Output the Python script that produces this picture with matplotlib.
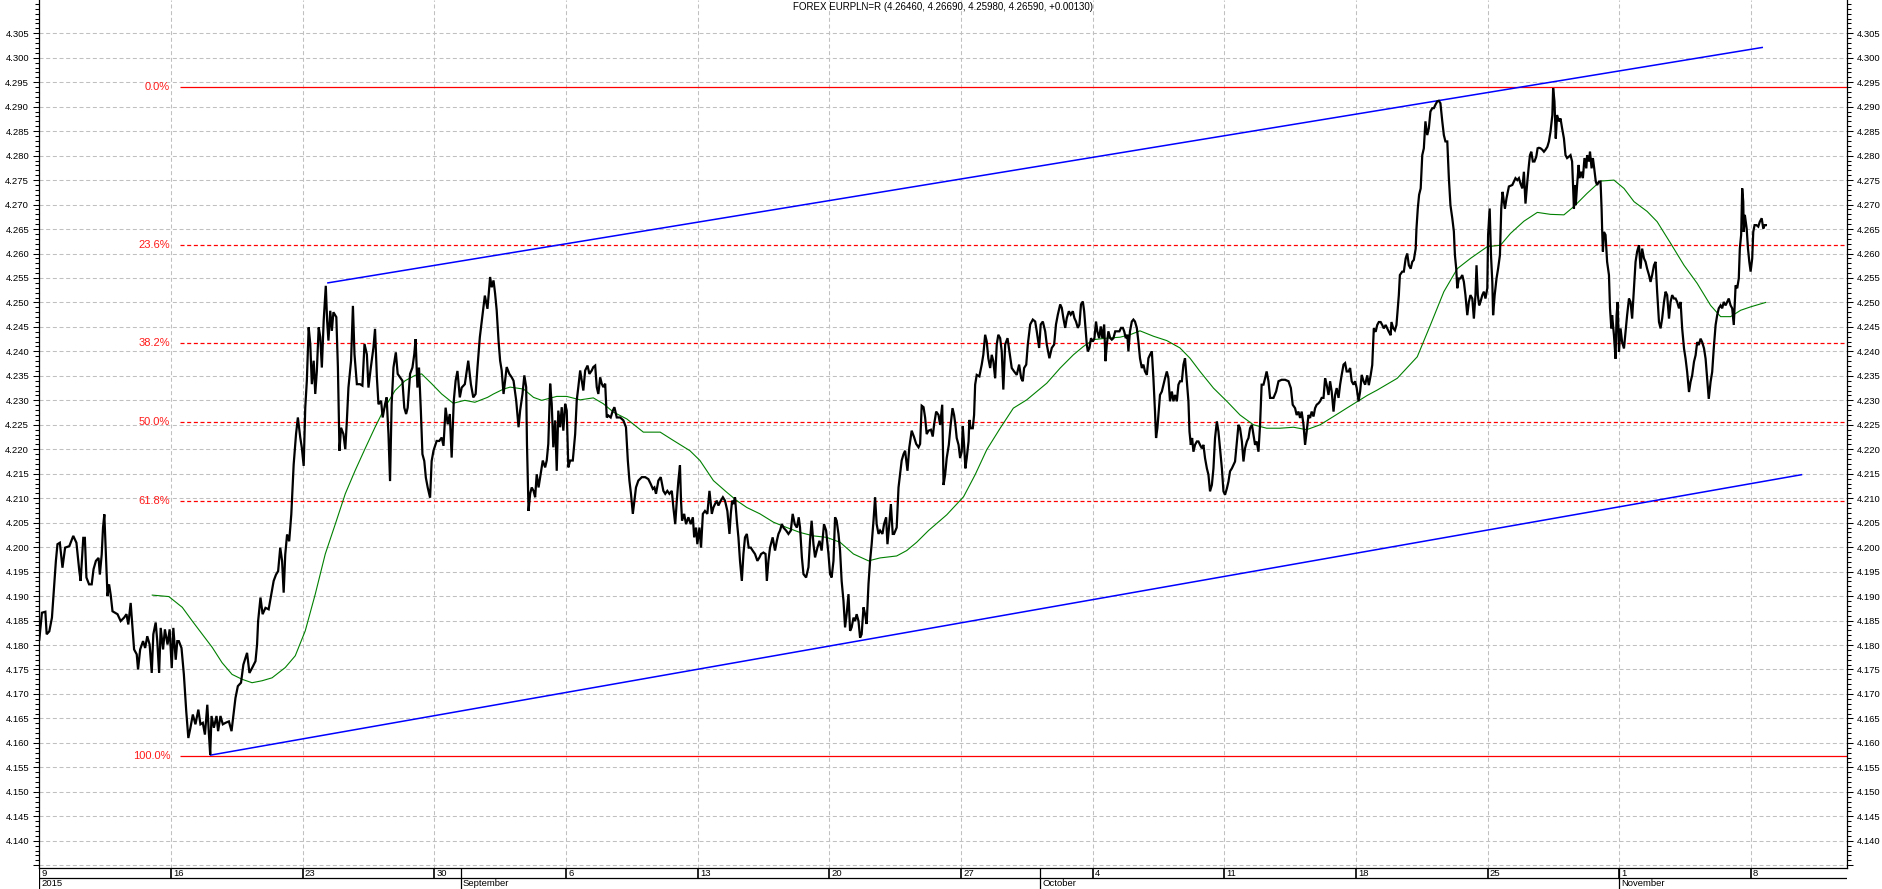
"""EUR/PLN daily chart with Fibonacci retracement, trend channel and moving average."""

import matplotlib
matplotlib.use("Agg")
import matplotlib.pyplot as plt
from matplotlib.ticker import MultipleLocator

plt.rcParams["font.family"] = ["Liberation Sans", "DejaVu Sans"]
plt.rcParams["lines.scale_dashes"] = False

TITLE = "FOREX EURPLN=R (4.26460, 4.26690, 4.25980, 4.26590, +0.00130)"

# x values are trading days counted from Monday 10 Aug 2015 (5 per week)
price_day_aug = [
    0.00, 0.10, 0.23, 0.28, 0.38, 0.48, 0.57, 0.63, 0.69, 0.78,
    0.88, 0.98, 1.14, 1.29, 1.41, 1.52, 1.57, 1.67, 1.73, 1.79,
    1.89, 1.99, 2.06, 2.15, 2.25, 2.30, 2.37, 2.42, 2.47, 2.53,
    2.59, 2.65, 2.71, 2.78, 2.97, 3.09, 3.22, 3.31, 3.38, 3.47,
    3.54, 3.60, 3.70, 3.75, 3.83, 3.94, 4.02, 4.10, 4.19, 4.27,
    4.33, 4.42, 4.48, 4.55, 4.61, 4.70, 4.77, 4.87, 4.95, 5.03,
    5.09, 5.18, 5.24, 5.30, 5.40, 5.49, 5.58, 5.66, 5.74, 5.83,
    5.93, 6.04, 6.12, 6.21, 6.29, 6.38, 6.44, 6.49, 6.54, 6.63,
    6.73, 6.79, 6.88, 6.97, 7.07, 7.20, 7.30, 7.39, 7.45, 7.54,
    7.66, 7.75, 7.89, 7.98, 8.08, 8.21, 8.27, 8.31, 8.40, 8.48,
    8.59, 8.71, 8.81, 8.90, 8.99, 9.07, 9.15, 9.22, 9.28, 9.34,
    9.41, 9.49, 9.57, 9.66, 9.75, 9.82, 9.91, 9.97, 10.04, 10.10,
    10.16, 10.23, 10.29, 10.35, 10.42, 10.48, 10.54, 10.61, 10.67, 10.73,
    10.80, 10.88, 10.93, 10.98, 11.05, 11.11, 11.17, 11.28, 11.34, 11.40,
    11.46, 11.55, 11.62, 11.68, 11.74, 11.84, 11.91, 11.97, 12.06, 12.18,
    12.27, 12.35, 12.44, 12.50, 12.59, 12.69, 12.75, 12.82, 12.88, 12.98,
    13.04, 13.13, 13.19, 13.26, 13.32, 13.38, 13.45, 13.54, 13.61, 13.70,
    13.79, 13.86, 13.93, 13.99, 14.08, 14.17, 14.24, 14.29, 14.36, 14.42,
    14.49, 14.55, 14.62, 14.68, 14.75, 14.84, 14.90, 14.97, 15.09, 15.19,
    15.28, 15.35, 15.43, 15.51, 15.59, 15.66, 15.74, 15.81, 15.88, 15.97,
    16.04, 16.16, 16.29, 16.39, 16.48, 16.57, 16.64, 16.73, 16.82, 16.92,
    17.02,
]
price_aug = [
    4.1811, 4.1866, 4.1868, 4.1822, 4.1828, 4.1856, 4.1924, 4.1972, 4.2006, 4.2009,
    4.1958, 4.1999, 4.2002, 4.2023, 4.2009, 4.1951, 4.1931, 4.2019, 4.2019, 4.1938,
    4.1924, 4.1924, 4.1955, 4.1972, 4.1978, 4.1944, 4.1985, 4.2040, 4.2067, 4.1985,
    4.1900, 4.1924, 4.1903, 4.1869, 4.1863, 4.1849, 4.1856, 4.1863, 4.1842, 4.1886,
    4.1835, 4.1791, 4.1781, 4.1750, 4.1791, 4.1808, 4.1794, 4.1818, 4.1801, 4.1743,
    4.1822, 4.1846, 4.1808, 4.1743, 4.1835, 4.1791, 4.1832, 4.1801, 4.1832, 4.1753,
    4.1835, 4.1770, 4.1808, 4.1808, 4.1794, 4.1740, 4.1665, 4.1610, 4.1631, 4.1658,
    4.1638, 4.1668, 4.1638, 4.1641, 4.1617, 4.1678, 4.1619, 4.1576, 4.1655, 4.1631,
    4.1655, 4.1624, 4.1655, 4.1638, 4.1641, 4.1644, 4.1624, 4.1665, 4.1692, 4.1716,
    4.1723, 4.1760, 4.1784, 4.1743, 4.1753, 4.1767, 4.1801, 4.1849, 4.1897, 4.1863,
    4.1876, 4.1873, 4.1903, 4.1931, 4.1944, 4.1951, 4.1999, 4.1972, 4.1907, 4.1985,
    4.2026, 4.2012, 4.2067, 4.2169, 4.2231, 4.2265, 4.2224, 4.2203, 4.2166, 4.2285,
    4.2340, 4.2449, 4.2415, 4.2333, 4.2381, 4.2313, 4.2360, 4.2449, 4.2429, 4.2367,
    4.2463, 4.2534, 4.2463, 4.2422, 4.2483, 4.2442, 4.2480, 4.2470, 4.2367, 4.2197,
    4.2244, 4.2231, 4.2200, 4.2258, 4.2326, 4.2381, 4.2493, 4.2394, 4.2333, 4.2333,
    4.2330, 4.2415, 4.2394, 4.2326, 4.2367, 4.2408, 4.2446, 4.2347, 4.2292, 4.2299,
    4.2265, 4.2292, 4.2306, 4.2231, 4.2135, 4.2292, 4.2367, 4.2398, 4.2354, 4.2347,
    4.2340, 4.2285, 4.2272, 4.2285, 4.2354, 4.2367, 4.2394, 4.2425, 4.2326, 4.2367,
    4.2279, 4.2190, 4.2176, 4.2142, 4.2122, 4.2101, 4.2176, 4.2197, 4.2217, 4.2217,
    4.2224, 4.2207, 4.2285, 4.2251, 4.2272, 4.2183, 4.2299, 4.2340, 4.2360, 4.2306,
    4.2326, 4.2333, 4.2381, 4.2333, 4.2306, 4.2313, 4.2367, 4.2429, 4.2470, 4.2514,
    4.2487,
]

price_day_sep = [
    17.12, 17.18, 17.25, 17.31, 17.37, 17.44, 17.50, 17.56, 17.63, 17.69,
    17.75, 17.85, 17.94, 18.01, 18.11, 18.20, 18.26, 18.35, 18.42, 18.49,
    18.52, 18.58, 18.64, 18.70, 18.77, 18.83, 18.89, 18.96, 19.02, 19.12,
    19.21, 19.27, 19.33, 19.40, 19.46, 19.52, 19.59, 19.65, 19.71, 19.78,
    19.84, 19.90, 19.97, 20.03, 20.09, 20.16, 20.26, 20.35, 20.41, 20.47,
    20.54, 20.60, 20.66, 20.73, 20.82, 20.89, 20.98, 21.04, 21.11, 21.17,
    21.23, 21.30, 21.36, 21.42, 21.49, 21.55, 21.61, 21.70, 21.78, 21.84,
    21.93, 22.06, 22.18, 22.28, 22.35, 22.41, 22.47, 22.54, 22.60, 22.66,
    22.75, 22.88, 23.01, 23.13, 23.22, 23.30, 23.36, 23.42, 23.51, 23.60,
    23.70, 23.77, 23.85, 23.93, 24.02, 24.08, 24.15, 24.21, 24.27, 24.33,
    24.37, 24.41, 24.49, 24.56, 24.65, 24.74, 24.82, 24.87, 24.94, 24.99,
    25.07, 25.13, 25.20, 25.28, 25.37, 25.45, 25.54, 25.60, 25.66, 25.73,
    25.79, 25.88, 25.96, 26.04, 26.13, 26.21, 26.26, 26.31, 26.36, 26.42,
    26.49, 26.55, 26.61, 26.68, 26.74, 26.80, 26.87, 26.94, 27.02, 27.09,
    27.18, 27.27, 27.35, 27.41, 27.50, 27.58, 27.63, 27.69, 27.75, 27.85,
    27.94, 28.01, 28.07, 28.13, 28.20, 28.26, 28.36, 28.45, 28.54, 28.61,
    28.69, 28.77, 28.84, 28.89, 28.96, 29.02, 29.12, 29.21, 29.27, 29.33,
    29.40, 29.46, 29.55, 29.63, 29.71, 29.80, 29.88, 29.97, 30.03, 30.09,
    30.16, 30.22, 30.28, 30.35, 30.41, 30.47, 30.54, 30.60, 30.66, 30.73,
    30.79, 30.85, 30.92, 30.98, 31.04, 31.11, 31.17, 31.23, 31.30, 31.36,
    31.42, 31.49, 31.55, 31.61, 31.68, 31.74, 31.80, 31.87, 31.93, 32.02,
    32.08, 32.16, 32.21, 32.28, 32.34, 32.41, 32.46, 32.56, 32.63, 32.69,
    32.75, 32.82, 32.88, 32.97, 33.04, 33.13, 33.22, 33.30, 33.39, 33.45,
    33.51, 33.58, 33.64, 33.70, 33.77,
]
price_sep = [
    4.2552, 4.2531, 4.2545, 4.2518, 4.2484, 4.2422, 4.2381, 4.2361, 4.2313, 4.2340,
    4.2368, 4.2354, 4.2347, 4.2340, 4.2300, 4.2245, 4.2279, 4.2313, 4.2351, 4.2327,
    4.2211, 4.2074, 4.2109, 4.2122, 4.2115, 4.2102, 4.2149, 4.2122, 4.2143, 4.2177,
    4.2163, 4.2177, 4.2211, 4.2334, 4.2293, 4.2204, 4.2259, 4.2156, 4.2279, 4.2245,
    4.2286, 4.2238, 4.2293, 4.2279, 4.2163, 4.2177, 4.2177, 4.2231, 4.2300, 4.2327,
    4.2361, 4.2340, 4.2320, 4.2361, 4.2371, 4.2354, 4.2361, 4.2368, 4.2371, 4.2327,
    4.2313, 4.2347, 4.2334, 4.2327, 4.2334, 4.2265, 4.2269, 4.2265, 4.2279, 4.2286,
    4.2265, 4.2265, 4.2259, 4.2245, 4.2177, 4.2136, 4.2109, 4.2068, 4.2095, 4.2122,
    4.2136, 4.2143, 4.2143, 4.2139, 4.2129, 4.2119, 4.2122, 4.2109, 4.2136, 4.2143,
    4.2115, 4.2109, 4.2115, 4.2109, 4.2115, 4.2081, 4.2047, 4.2095, 4.2136, 4.2167,
    4.2095, 4.2054, 4.2068, 4.2047, 4.2061, 4.2047, 4.2061, 4.2020, 4.2040, 4.2006,
    4.2040, 4.1999, 4.2068, 4.2074, 4.2068, 4.2115, 4.2068, 4.2081, 4.2088, 4.2095,
    4.2085, 4.2095, 4.2102, 4.2095, 4.2074, 4.2027, 4.2068, 4.2095, 4.2088, 4.2102,
    4.2054, 4.2020, 4.1972, 4.1931, 4.1986, 4.2020, 4.2027, 4.1999, 4.1999, 4.1993,
    4.1986, 4.1972, 4.1979, 4.1986, 4.1989, 4.1986, 4.1931, 4.1972, 4.1999, 4.2020,
    4.1993, 4.2013, 4.2027, 4.2034, 4.2047, 4.2040, 4.2034, 4.2027, 4.2034, 4.2068,
    4.2047, 4.2040, 4.2061, 4.2040, 4.1979, 4.1945, 4.1938, 4.1959, 4.2013, 4.2054,
    4.2006, 4.1979, 4.1999, 4.2013, 4.1993, 4.2047, 4.2034, 4.1986, 4.1945, 4.1938,
    4.1972, 4.2061, 4.2054, 4.2027, 4.1993, 4.1931, 4.1890, 4.1836, 4.1863, 4.1904,
    4.1829, 4.1836, 4.1856, 4.1849, 4.1863, 4.1849, 4.1815, 4.1822, 4.1877, 4.1863,
    4.1843, 4.1925, 4.1972, 4.2006, 4.2054, 4.2102, 4.2047, 4.2027, 4.2034, 4.2027,
    4.2047, 4.2061, 4.2006, 4.2047, 4.2088, 4.2027, 4.2027, 4.2040, 4.2122, 4.2150,
    4.2177, 4.2190, 4.2197, 4.2156, 4.2204, 4.2238, 4.2225, 4.2211, 4.2204, 4.2211,
    4.2289, 4.2286, 4.2265, 4.2231, 4.2238,
]

price_day_oct = [
    33.86, 33.93, 33.98, 34.06, 34.15, 34.21, 34.29, 34.34, 34.40, 34.46,
    34.54, 34.61, 34.68, 34.74, 34.79, 34.84, 34.91, 34.97, 35.03, 35.07,
    35.12, 35.17, 35.22, 35.29, 35.32, 35.37, 35.45, 35.50, 35.54, 35.60,
    35.70, 35.79, 35.85, 35.92, 35.98, 36.04, 36.11, 36.17, 36.23, 36.30,
    36.36, 36.42, 36.49, 36.55, 36.61, 36.68, 36.77, 36.84, 36.93, 37.02,
    37.12, 37.21, 37.29, 37.35, 37.40, 37.48, 37.54, 37.63, 37.73, 37.82,
    37.88, 37.97, 38.03, 38.11, 38.20, 38.26, 38.36, 38.45, 38.54, 38.61,
    38.68, 38.77, 38.83, 38.89, 38.96, 39.02, 39.10, 39.17, 39.25, 39.31,
    39.37, 39.44, 39.50, 39.56, 39.63, 39.68, 39.72, 39.78, 39.82, 39.88,
    39.94, 40.01, 40.07, 40.13, 40.18, 40.25, 40.31, 40.37, 40.44, 40.49,
    40.54, 40.60, 40.67, 40.73, 40.79, 40.86, 40.92, 41.02, 41.08, 41.15,
    41.20, 41.26, 41.32, 41.36, 41.42, 41.49, 41.55, 41.61, 41.68, 41.74,
    41.80, 41.87, 41.93, 41.99, 42.06, 42.12, 42.18, 42.25, 42.31, 42.37,
    42.41, 42.46, 42.51, 42.56, 42.63, 42.69, 42.75, 42.82, 42.88, 42.94,
    43.01, 43.07, 43.13, 43.20, 43.26, 43.32, 43.39, 43.45, 43.51, 43.58,
    43.64, 43.68, 43.73, 43.78, 43.83, 43.89, 43.96, 44.02, 44.08, 44.15,
    44.21, 44.27, 44.34, 44.40, 44.46, 44.53, 44.59, 44.65, 44.72, 44.78,
    44.84, 44.91, 44.97, 45.03, 45.10, 45.16, 45.22, 45.29, 45.35, 45.41,
    45.48, 45.54, 45.60, 45.67, 45.73, 45.79, 45.86, 45.92, 45.98, 46.05,
    46.11, 46.17, 46.23, 46.30, 46.36, 46.42, 46.49, 46.55, 46.61, 46.68,
    46.74, 46.80, 46.87, 46.97, 47.06, 47.18, 47.31, 47.44, 47.53, 47.60,
    47.69, 47.75, 47.82, 47.88, 47.94, 48.01, 48.07, 48.13, 48.20, 48.26,
    48.32, 48.39, 48.45, 48.51, 48.58, 48.64, 48.70, 48.77, 48.83, 48.89,
    48.96, 49.02, 49.08, 49.15, 49.21, 49.27, 49.34, 49.40, 49.46, 49.53,
    49.59, 49.65, 49.72, 49.78, 49.84, 49.91, 49.97, 50.03, 50.10, 50.16,
    50.22, 50.29, 50.35,
]
price_oct = [
    4.2240, 4.2226, 4.2250, 4.2277, 4.2270, 4.2250, 4.2291, 4.2127, 4.2148, 4.2182,
    4.2209, 4.2250, 4.2284, 4.2270, 4.2250, 4.2223, 4.2209, 4.2182, 4.2195, 4.2247,
    4.2209, 4.2161, 4.2182, 4.2216, 4.2260, 4.2243, 4.2243, 4.2270, 4.2332, 4.2352,
    4.2349, 4.2373, 4.2393, 4.2434, 4.2420, 4.2386, 4.2366, 4.2393, 4.2380, 4.2345,
    4.2414, 4.2434, 4.2427, 4.2400, 4.2322, 4.2414, 4.2427, 4.2400, 4.2366, 4.2359,
    4.2352, 4.2373, 4.2345, 4.2339, 4.2366, 4.2373, 4.2414, 4.2455, 4.2465, 4.2461,
    4.2441, 4.2407, 4.2455, 4.2461, 4.2441, 4.2414, 4.2386, 4.2407, 4.2414, 4.2455,
    4.2475, 4.2496, 4.2489, 4.2468, 4.2448, 4.2468, 4.2482, 4.2475, 4.2482, 4.2468,
    4.2461, 4.2448, 4.2455, 4.2496, 4.2502, 4.2482, 4.2455, 4.2414, 4.2400, 4.2407,
    4.2427, 4.2420, 4.2427, 4.2461, 4.2441, 4.2427, 4.2451, 4.2427, 4.2455, 4.2380,
    4.2414, 4.2441, 4.2427, 4.2424, 4.2427, 4.2441, 4.2441, 4.2441, 4.2448, 4.2448,
    4.2441, 4.2427, 4.2434, 4.2400, 4.2441, 4.2461, 4.2465, 4.2461, 4.2448, 4.2420,
    4.2386, 4.2366, 4.2373, 4.2359, 4.2352, 4.2386, 4.2393, 4.2400, 4.2345, 4.2277,
    4.2223, 4.2243, 4.2277, 4.2311, 4.2318, 4.2332, 4.2345, 4.2359, 4.2345, 4.2298,
    4.2318, 4.2298, 4.2311, 4.2298, 4.2332, 4.2339, 4.2339, 4.2373, 4.2386, 4.2339,
    4.2298, 4.2236, 4.2209, 4.2223, 4.2195, 4.2209, 4.2216, 4.2216, 4.2209, 4.2202,
    4.2209, 4.2182, 4.2161, 4.2148, 4.2114, 4.2127, 4.2161, 4.2223, 4.2257, 4.2236,
    4.2202, 4.2161, 4.2114, 4.2107, 4.2120, 4.2134, 4.2155, 4.2161, 4.2168, 4.2175,
    4.2216, 4.2250, 4.2243, 4.2216, 4.2175, 4.2202, 4.2216, 4.2223, 4.2243, 4.2250,
    4.2230, 4.2209, 4.2216, 4.2195, 4.2250, 4.2332, 4.2332, 4.2345, 4.2359, 4.2339,
    4.2305, 4.2305, 4.2305, 4.2318, 4.2339, 4.2342, 4.2342, 4.2339, 4.2325, 4.2291,
    4.2284, 4.2270, 4.2277, 4.2264, 4.2277, 4.2250, 4.2209, 4.2236, 4.2270, 4.2264,
    4.2277, 4.2267, 4.2284, 4.2291, 4.2294, 4.2298, 4.2305, 4.2305, 4.2345, 4.2332,
    4.2311, 4.2339, 4.2318, 4.2277, 4.2311, 4.2325, 4.2305, 4.2332, 4.2352, 4.2373,
    4.2376, 4.2359, 4.2359, 4.2366, 4.2339, 4.2332, 4.2339, 4.2325, 4.2298, 4.2318,
    4.2352, 4.2339, 4.2332,
]

price_day_nov = [
    50.43, 50.49, 50.56, 50.62, 50.68, 50.75, 50.81, 50.87, 50.94, 51.00,
    51.06, 51.13, 51.19, 51.25, 51.32, 51.35, 51.42, 51.48, 51.54, 51.59,
    51.63, 51.67, 51.76, 51.82, 51.89, 51.95, 52.01, 52.08, 52.14, 52.20,
    52.27, 52.30, 52.35, 52.40, 52.46, 52.52, 52.58, 52.64, 52.71, 52.77,
    52.83, 52.90, 52.96, 53.02, 53.09, 53.15, 53.21, 53.28, 53.34, 53.40,
    53.47, 53.53, 53.59, 53.66, 53.72, 53.76, 53.81, 53.85, 53.91, 53.97,
    54.04, 54.10, 54.16, 54.23, 54.29, 54.35, 54.42, 54.48, 54.54, 54.58,
    54.63, 54.68, 54.73, 54.80, 54.86, 54.92, 54.99, 55.02, 55.08, 55.13,
    55.18, 55.21, 55.27, 55.34, 55.40, 55.47, 55.52, 55.57, 55.62, 55.66,
    55.72, 55.81, 55.94, 56.00, 56.06, 56.13, 56.19, 56.25, 56.32, 56.38,
    56.44, 56.51, 56.57, 56.61, 56.66, 56.72, 56.78, 56.85, 56.90, 56.95,
    57.01, 57.08, 57.14, 57.20, 57.27, 57.33, 57.39, 57.46, 57.49, 57.54,
    57.59, 57.64, 57.71, 57.77, 57.83, 57.90, 57.96, 58.02, 58.09, 58.15,
    58.21, 58.28, 58.32, 58.35, 58.40, 58.46, 58.49, 58.56, 58.62, 58.68,
    58.75, 58.78, 58.85, 58.89, 58.95, 59.00, 59.05, 59.11, 59.16, 59.23,
    59.29, 59.33, 59.35, 59.38, 59.42, 59.48, 59.54, 59.61, 59.65, 59.70,
    59.73, 59.80, 59.86, 59.90, 59.94, 59.99, 60.05, 60.11, 60.18, 60.24,
    60.30, 60.37, 60.43, 60.49, 60.56, 60.62, 60.68, 60.75, 60.81, 60.87,
    60.94, 61.00, 61.06, 61.13, 61.19, 61.25, 61.32, 61.38, 61.44, 61.51,
    61.57, 61.63, 61.70, 61.76, 61.82, 61.89, 61.95, 62.01, 62.08, 62.14,
    62.20, 62.27, 62.33, 62.39, 62.46, 62.52, 62.58, 62.65, 62.71, 62.77,
    62.84, 62.90, 62.96, 63.02, 63.09, 63.15, 63.22, 63.28, 63.34, 63.40,
    63.47, 63.53, 63.59, 63.66, 63.72, 63.78, 63.85, 63.91, 63.97, 64.04,
    64.10, 64.16, 64.23, 64.29, 64.35, 64.42, 64.48, 64.54, 64.58, 64.63,
    64.67, 64.71, 64.73, 64.77, 64.84, 64.89, 64.94, 64.99, 65.05, 65.09,
    65.14, 65.21, 65.28, 65.34, 65.41, 65.47, 65.52, 65.57,
]
price_nov = [
    4.2351, 4.2331, 4.2351, 4.2372, 4.2447, 4.2440, 4.2454, 4.2460, 4.2460, 4.2454,
    4.2447, 4.2454, 4.2447, 4.2440, 4.2433, 4.2460, 4.2447, 4.2443, 4.2454, 4.2488,
    4.2515, 4.2556, 4.2563, 4.2563, 4.2590, 4.2600, 4.2576, 4.2569, 4.2583, 4.2587,
    4.2610, 4.2651, 4.2692, 4.2720, 4.2733, 4.2801, 4.2815, 4.2870, 4.2842, 4.2856,
    4.2890, 4.2897, 4.2897, 4.2904, 4.2911, 4.2912, 4.2907, 4.2870, 4.2842, 4.2829,
    4.2829, 4.2754, 4.2699, 4.2672, 4.2645, 4.2597, 4.2569, 4.2529, 4.2549, 4.2549,
    4.2556, 4.2542, 4.2515, 4.2474, 4.2501, 4.2515, 4.2508, 4.2467, 4.2515, 4.2576,
    4.2515, 4.2494, 4.2501, 4.2515, 4.2522, 4.2508, 4.2529, 4.2638, 4.2692, 4.2597,
    4.2542, 4.2474, 4.2515, 4.2549, 4.2569, 4.2597, 4.2692, 4.2726, 4.2706, 4.2692,
    4.2713, 4.2737, 4.2740, 4.2747, 4.2754, 4.2750, 4.2754, 4.2743, 4.2733, 4.2767,
    4.2702, 4.2747, 4.2781, 4.2801, 4.2808, 4.2788, 4.2788, 4.2798, 4.2815, 4.2816,
    4.2815, 4.2812, 4.2808, 4.2812, 4.2818, 4.2829, 4.2849, 4.2883, 4.2938, 4.2911,
    4.2835, 4.2883, 4.2870, 4.2876, 4.2856, 4.2835, 4.2801, 4.2795, 4.2798, 4.2801,
    4.2788, 4.2692, 4.2740, 4.2699, 4.2740, 4.2781, 4.2754, 4.2767, 4.2754, 4.2795,
    4.2774, 4.2801, 4.2788, 4.2808, 4.2774, 4.2795, 4.2774, 4.2747, 4.2740, 4.2747,
    4.2747, 4.2692, 4.2651, 4.2604, 4.2644, 4.2638, 4.2583, 4.2556, 4.2488, 4.2447,
    4.2474, 4.2433, 4.2385, 4.2474, 4.2501, 4.2399, 4.2447, 4.2419, 4.2406, 4.2440,
    4.2474, 4.2508, 4.2501, 4.2467, 4.2529, 4.2583, 4.2604, 4.2617, 4.2569, 4.2610,
    4.2590, 4.2583, 4.2569, 4.2556, 4.2542, 4.2556, 4.2576, 4.2583, 4.2522, 4.2460,
    4.2447, 4.2467, 4.2501, 4.2522, 4.2515, 4.2467, 4.2501, 4.2515, 4.2508, 4.2508,
    4.2501, 4.2488, 4.2501, 4.2447, 4.2406, 4.2385, 4.2358, 4.2317, 4.2338, 4.2351,
    4.2379, 4.2392, 4.2419, 4.2413, 4.2426, 4.2419, 4.2406, 4.2385, 4.2344, 4.2303,
    4.2338, 4.2358, 4.2406, 4.2454, 4.2474, 4.2488, 4.2494, 4.2488, 4.2501, 4.2494,
    4.2501, 4.2508, 4.2494, 4.2488, 4.2454, 4.2535, 4.2529, 4.2549, 4.2610, 4.2638,
    4.2733, 4.2706, 4.2644, 4.2679, 4.2651, 4.2610, 4.2583, 4.2563, 4.2590, 4.2644,
    4.2658, 4.2658, 4.2655, 4.2665, 4.2672, 4.2651, 4.2658, 4.2658,
]

# moving average (green)
ma_day = [
    4.29, 4.92, 5.43, 5.81, 6.19, 6.57, 6.94, 7.32, 7.70, 8.08,
    8.46, 8.84, 9.34, 9.72, 10.10, 10.48, 10.86, 11.24, 11.62, 11.99,
    12.37, 12.75, 13.13, 13.51, 13.89, 14.27, 14.52, 14.90, 15.28, 15.72,
    16.16, 16.54, 17.02, 17.25, 17.63, 17.88, 18.39, 18.77, 19.08, 19.65,
    20.03, 20.54, 21.04, 21.42, 21.80, 22.31, 22.94, 23.58, 24.08, 24.71,
    25.09, 25.60, 26.11, 26.49, 26.87, 27.37, 27.88, 28.39, 28.89, 29.40,
    29.90, 30.41, 30.92, 31.49, 31.93, 32.56, 32.94, 33.32, 33.77, 34.46,
    35.10, 35.54, 35.98, 36.49, 36.99, 37.50, 37.88, 38.26, 38.77, 39.27,
    39.65, 40.03, 40.54, 41.04, 41.42, 41.80, 42.31, 42.82, 43.32, 43.70,
    44.08, 44.59, 45.10, 45.60, 46.11, 46.61, 47.12, 47.63, 48.13, 48.64,
    49.15, 49.65, 50.16, 50.43, 50.81, 51.57, 52.33, 52.83, 53.34, 53.85,
    54.35, 54.99, 55.49, 55.87, 56.38, 56.89, 57.39, 57.90, 58.28, 58.78,
    59.29, 59.80, 60.18, 60.56, 61.06, 61.44, 61.95, 62.46, 62.96, 63.47,
    63.85, 64.23, 64.61, 64.99, 65.56,
]
ma_value = [
    4.1902, 4.1899, 4.1877, 4.1849, 4.1822, 4.1795, 4.1764, 4.1740, 4.1730, 4.1723,
    4.1727, 4.1733, 4.1754, 4.1778, 4.1829, 4.1904, 4.1986, 4.2047, 4.2109, 4.2156,
    4.2201, 4.2245, 4.2286, 4.2320, 4.2340, 4.2351, 4.2354, 4.2334, 4.2313, 4.2294,
    4.2300, 4.2296, 4.2306, 4.2313, 4.2323, 4.2327, 4.2323, 4.2306, 4.2300, 4.2308,
    4.2308, 4.2301, 4.2305, 4.2293, 4.2276, 4.2262, 4.2235, 4.2235, 4.2218, 4.2197,
    4.2177, 4.2136, 4.2112, 4.2095, 4.2081, 4.2068, 4.2051, 4.2040, 4.2030, 4.2023,
    4.2020, 4.2010, 4.1986, 4.1972, 4.1978, 4.1982, 4.1993, 4.2010, 4.2034, 4.2066,
    4.2103, 4.2148, 4.2199, 4.2243, 4.2284, 4.2301, 4.2318, 4.2335, 4.2366, 4.2393,
    4.2410, 4.2424, 4.2427, 4.2429, 4.2434, 4.2442, 4.2431, 4.2422, 4.2407, 4.2386,
    4.2359, 4.2325, 4.2298, 4.2270, 4.2250, 4.2243, 4.2243, 4.2245, 4.2240, 4.2250,
    4.2267, 4.2284, 4.2301, 4.2310, 4.2321, 4.2345, 4.2389, 4.2454, 4.2522, 4.2569,
    4.2590, 4.2614, 4.2617, 4.2641, 4.2666, 4.2684, 4.2680, 4.2679, 4.2696, 4.2723,
    4.2748, 4.2750, 4.2733, 4.2706, 4.2686, 4.2665, 4.2621, 4.2576, 4.2539, 4.2494,
    4.2471, 4.2471, 4.2484, 4.2491, 4.2500,
]

# trend channel (blue)
upper_day = [10.96, 65.43]
upper_value = [4.2540, 4.3021]
lower_day = [6.50, 66.92]
lower_value = [4.1575, 4.2148]

# Fibonacci retracement
FIB_HIGH = 4.2940
FIB_LOW = 4.1573
FIB_START = 5.35
fib_pct = [0.0, 23.6, 38.2, 50.0, 61.8, 100.0]

# bottom date strip
week_day = [0, 5, 10, 15, 20, 25, 30, 35, 40, 45, 50, 55, 60, 65]
week_labels = ["9", "16", "23", "30", "6", "13", "20", "27", "4", "11", "18", "25", "1", "8"]
month_day = [0, 16, 38, 60]
month_labels = ["2015", "September", "October", "November"]

y_ticks = [round(4.135 + 0.005 * i, 3) for i in range(35)]
y_labels = [""] + [f"{v:.3f}" for v in y_ticks[1:]]

X_MAX = 68.65
Y_MIN, Y_MAX = 4.13444, 4.31180

W, H = 1883, 889
LEFT, RIGHT, BOTTOM = 39.3, 1847, 868

fig = plt.figure(figsize=(W / 100, H / 100), dpi=100)
fig.patch.set_facecolor("white")
ax = fig.add_axes([LEFT / W, (H - BOTTOM) / H, (RIGHT - LEFT) / W, BOTTOM / H])
ax.set_xlim(0, X_MAX)
ax.set_ylim(Y_MIN, Y_MAX)

grid_dash = (0, (2.9, 1.9))
ax.set_xticks(week_day)
ax.set_yticks(y_ticks, labels=y_labels)
ax.yaxis.set_minor_locator(MultipleLocator(0.001))
ax.grid(True, which="major", color="#c0c0c0", linewidth=0.75, linestyle=grid_dash)
ax.set_axisbelow(True)

ax.tick_params(axis="x", length=0, labelbottom=False)
ax.tick_params(axis="y", which="both", left=True, right=True,
               labelleft=True, labelright=True, direction="out",
               labelsize=6.8, pad=3, width=0.75, color="black")
ax.tick_params(axis="y", which="major", length=4.3)
ax.tick_params(axis="y", which="minor", length=2.6)

ax.spines["top"].set_visible(False)
for side in ("left", "right", "bottom"):
    ax.spines[side].set_linewidth(0.9)
    ax.spines[side].set_color("black")

# fibonacci levels
fib_range = FIB_HIGH - FIB_LOW
for pct in fib_pct:
    level = FIB_HIGH - fib_range * pct / 100
    style = "-" if pct in (0.0, 100.0) else (0, (2.9, 1.9))
    ax.hlines(level, FIB_START, X_MAX, color="#ff0000", linewidth=0.9,
              linestyles=style, zorder=2)
    ax.text(4.97, level, f"{pct:.1f}%", ha="right", va="center",
            color="#ff1a1a", fontsize=8, zorder=2)

# channel
ax.plot(upper_day, upper_value, color="#0000ff", linewidth=1.1, zorder=3)
ax.plot(lower_day, lower_value, color="#0000ff", linewidth=1.1, zorder=3)

# price and moving average
price_day = price_day_aug + price_day_sep + price_day_oct + price_day_nov
price = price_aug + price_sep + price_oct + price_nov
ax.plot(ma_day, ma_value, color="#008000", linewidth=0.8, zorder=4)
ax.plot(price_day, price, color="black", linewidth=1.6, zorder=5,
        solid_joinstyle="miter")

ax.text(0.5, 1 - 7 / BOTTOM, TITLE, transform=ax.transAxes,
        ha="center", va="center", fontsize=7, zorder=6)

# date strip below the plot
strip = fig.add_axes([LEFT / W, 0, (RIGHT - LEFT) / W, (H - BOTTOM) / H])
strip.set_xlim(0, X_MAX)
strip.set_ylim(0, H - BOTTOM)
strip.axis("off")
row_mid = 11
strip.hlines(row_mid, 0, X_MAX, color="black", linewidth=0.9)
strip.vlines(week_day, row_mid, H - BOTTOM, color="black", linewidth=1.2)
strip.vlines(month_day, 0, H - BOTTOM, color="black", linewidth=0.9)
for d, lbl in zip(week_day, week_labels):
    strip.annotate(lbl, (d, 15.8), xytext=(1.6, 0), textcoords="offset points",
                   ha="left", va="center", fontsize=6.8)
for d, lbl in zip(month_day, month_labels):
    strip.annotate(lbl, (d, 5.2), xytext=(1.6, 0), textcoords="offset points",
                   ha="left", va="center", fontsize=6.8)

fig.savefig("out.png", dpi=100)
